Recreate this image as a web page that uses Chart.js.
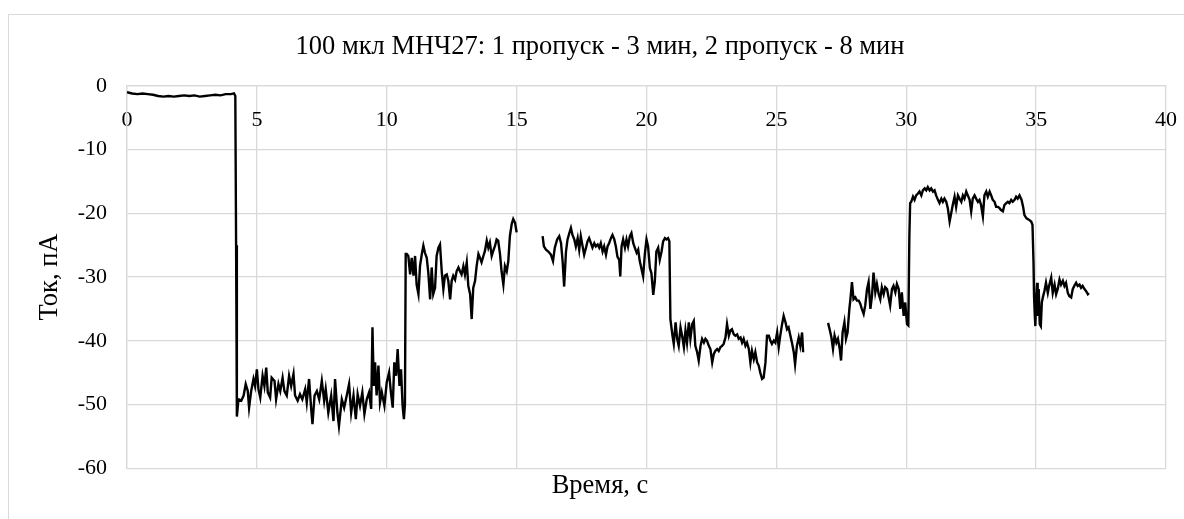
<!DOCTYPE html>
<html>
<head>
<meta charset="utf-8">
<script src="https://cdn.jsdelivr.net/npm/chart.js@4.4.1/dist/chart.umd.min.js"></script>
<style>
  html, body { margin: 0; padding: 0; background: #fff; }
  #wrap { position: relative; width: 1184px; height: 519px; }
</style>
</head>
<body>
<div id="wrap"><canvas id="trace-chart" width="1184" height="519"></canvas></div>
<script>
// Время (с) и ток (пА); три куска между пропусками
const pass1 = [
  [0, -1.0], [0.2, -1.2], [0.4, -1.3], [0.6, -1.2], [0.8, -1.3], [1.0, -1.4], [1.2, -1.6], [1.4, -1.7],
  [1.6, -1.6], [1.8, -1.7], [2.0, -1.6], [2.2, -1.5], [2.4, -1.6], [2.6, -1.5], [2.8, -1.7], [3.0, -1.6],
  [3.2, -1.5], [3.4, -1.4], [3.6, -1.5], [3.8, -1.3], [4.0, -1.3], [4.12, -1.2], [4.17, -1.6], [4.2, -25.0],
  [4.23, -51.9], [4.29, -49.2], [4.40, -49.4], [4.49, -48.6], [4.57, -46.8], [4.65, -47.9], [4.70, -50.5],
  [4.78, -47.9], [4.87, -46.0], [4.93, -47.1], [5.00, -44.5], [5.06, -47.6], [5.13, -48.9], [5.22, -45.5],
  [5.29, -47.1], [5.36, -44.2], [5.42, -48.1], [5.51, -48.9], [5.57, -45.8], [5.68, -46.3], [5.74, -49.2],
  [5.83, -46.8], [5.90, -47.9], [5.99, -45.8], [6.06, -47.9], [6.15, -48.6], [6.24, -45.5], [6.32, -47.1],
  [6.41, -45.2], [6.47, -48.6], [6.57, -49.4], [6.66, -48.4], [6.75, -49.2], [6.86, -47.6], [6.92, -49.7],
  [7.01, -46.0], [7.09, -50.7], [7.14, -53.1], [7.22, -48.6], [7.31, -47.9], [7.40, -49.2], [7.50, -46.3],
  [7.59, -49.4], [7.65, -47.6], [7.75, -51.3], [7.86, -48.6], [7.95, -52.6], [8.01, -46.0], [8.10, -51.3],
  [8.16, -53.4], [8.27, -49.2], [8.36, -50.5], [8.46, -48.6], [8.55, -46.8], [8.63, -51.3], [8.72, -48.6],
  [8.81, -52.3], [8.88, -48.4], [8.97, -50.2], [9.06, -48.1], [9.14, -51.5], [9.23, -49.2], [9.32, -48.1],
  [9.40, -50.7], [9.45, -37.9], [9.50, -47.1], [9.55, -43.4], [9.61, -48.6], [9.68, -43.9], [9.74, -49.7],
  [9.81, -48.1], [9.91, -50.2], [10.0, -46.5], [10.09, -45.0], [10.16, -48.1], [10.23, -50.5], [10.29, -43.4],
  [10.36, -45.5], [10.42, -41.3], [10.49, -47.1], [10.55, -44.5], [10.61, -50.2], [10.66, -52.3], [10.70, -50.0],
  [10.73, -26.4], [10.77, -26.4], [10.83, -26.7], [10.90, -29.6], [10.96, -27.0], [11.03, -29.8], [11.09, -26.7],
  [11.15, -31.2], [11.22, -32.7], [11.28, -28.3], [11.35, -26.4], [11.41, -25.1], [11.47, -26.2], [11.54, -27.0],
  [11.60, -29.3], [11.67, -33.5], [11.73, -28.5], [11.79, -32.7], [11.86, -31.7], [11.92, -26.7], [11.99, -25.4],
  [12.05, -24.9], [12.12, -29.3], [12.18, -31.9], [12.24, -29.8], [12.31, -29.6], [12.37, -30.6], [12.44, -33.5],
  [12.50, -30.6], [12.56, -29.8], [12.63, -30.4], [12.69, -29.1], [12.76, -28.5], [12.82, -29.1], [12.88, -29.6],
  [12.95, -28.3], [13.01, -29.6], [13.08, -27.7], [13.14, -31.4], [13.21, -32.7], [13.27, -36.6], [13.33, -31.7],
  [13.40, -30.6], [13.46, -28.3], [13.53, -26.4], [13.59, -27.0], [13.65, -27.7], [13.72, -26.7], [13.78, -25.9],
  [13.85, -24.3], [13.91, -25.4], [13.97, -24.6], [14.04, -26.7], [14.10, -25.9], [14.17, -25.1], [14.23, -24.1],
  [14.29, -24.3], [14.36, -26.4], [14.42, -29.1], [14.49, -31.2], [14.55, -28.3], [14.62, -29.1], [14.68, -27.5],
  [14.74, -23.6], [14.81, -21.7], [14.87, -20.9], [14.94, -21.5], [15.00, -23.0]
];

const pass2 = [
  [16.0, -23.6], [16.05, -25.2], [16.13, -25.7], [16.22, -26.0], [16.32, -26.5], [16.40, -27.5], [16.47, -25.4],
  [16.56, -24.1], [16.64, -23.6], [16.71, -24.7], [16.77, -27.5], [16.83, -31.5], [16.90, -26.0], [16.96, -24.1],
  [17.03, -23.1], [17.09, -22.3], [17.15, -23.4], [17.22, -24.1], [17.28, -25.2], [17.35, -23.9], [17.41, -25.7],
  [17.47, -23.6], [17.54, -25.2], [17.60, -26.5], [17.67, -25.4], [17.73, -24.4], [17.79, -23.9], [17.86, -24.7],
  [17.92, -25.4], [17.99, -24.7], [18.05, -25.2], [18.12, -24.9], [18.18, -25.4], [18.24, -24.7], [18.31, -26.0],
  [18.37, -25.2], [18.44, -26.5], [18.50, -25.2], [18.56, -24.7], [18.63, -23.9], [18.69, -23.4], [18.76, -24.1],
  [18.82, -25.2], [18.88, -26.8], [18.95, -27.3], [18.99, -29.9], [19.04, -25.2], [19.10, -24.1], [19.17, -25.4],
  [19.23, -24.1], [19.29, -25.2], [19.36, -23.6], [19.42, -23.1], [19.49, -24.7], [19.55, -25.4], [19.62, -26.2],
  [19.68, -25.7], [19.74, -27.5], [19.81, -28.8], [19.87, -29.9], [19.94, -26.2], [20.00, -24.1], [20.06, -25.2],
  [20.13, -28.6], [20.19, -29.4], [20.26, -32.8], [20.32, -30.7], [20.38, -26.0], [20.45, -25.4], [20.51, -27.3],
  [20.58, -26.0], [20.64, -24.4], [20.71, -23.9], [20.77, -24.1], [20.83, -23.9], [20.88, -24.4], [20.92, -36.6],
  [21.0, -39.2], [21.05, -40.5], [21.12, -37.1], [21.18, -39.7], [21.24, -40.8], [21.31, -37.9], [21.37, -39.2],
  [21.44, -41.0], [21.50, -38.4], [21.56, -40.3], [21.63, -37.1], [21.69, -39.7], [21.76, -37.4], [21.82, -36.9],
  [21.88, -40.8], [21.95, -41.8], [22.01, -43.1], [22.08, -40.8], [22.14, -39.7], [22.21, -40.3], [22.27, -39.7],
  [22.33, -40.0], [22.40, -40.8], [22.46, -41.3], [22.53, -43.4], [22.59, -42.1], [22.65, -41.6], [22.72, -41.3],
  [22.78, -41.6], [22.85, -41.0], [22.91, -40.8], [22.97, -40.5], [23.04, -39.5], [23.10, -37.4], [23.17, -39.2],
  [23.23, -38.4], [23.29, -38.2], [23.36, -39.0], [23.42, -39.2], [23.49, -39.0], [23.55, -39.7], [23.62, -39.5],
  [23.68, -40.3], [23.74, -39.7], [23.81, -40.8], [23.87, -40.3], [23.94, -41.3], [24.00, -43.4], [24.06, -41.6],
  [24.13, -42.9], [24.19, -41.8], [24.26, -43.4], [24.32, -43.9], [24.38, -45.0], [24.45, -46.0], [24.51, -45.8],
  [24.58, -43.4], [24.64, -39.2], [24.71, -39.2], [24.77, -40.0], [24.83, -40.5], [24.90, -40.0], [24.96, -40.3],
  [25.03, -38.7], [25.09, -41.0], [25.15, -39.2], [25.22, -37.4], [25.28, -36.1], [25.35, -37.1], [25.41, -38.2],
  [25.47, -37.9], [25.54, -39.2], [25.60, -40.3], [25.67, -41.8], [25.72, -43.7], [25.79, -40.8], [25.86, -39.5],
  [25.92, -40.8], [25.99, -38.7], [26.03, -41.8]
];

const pass3 = [
  [26.99, -37.2], [27.05, -38.2], [27.12, -39.5], [27.18, -41.3], [27.24, -39.2], [27.31, -40.3], [27.37, -39.7],
  [27.44, -41.3], [27.49, -43.1], [27.55, -38.7], [27.62, -37.1], [27.68, -39.7], [27.74, -38.7], [27.81, -35.0],
  [27.85, -33.5], [27.91, -30.8], [27.97, -33.5], [28.04, -33.2], [28.10, -33.7], [28.17, -33.7], [28.23, -34.2],
  [28.29, -35.0], [28.36, -35.8], [28.42, -34.5], [28.49, -31.9], [28.55, -30.8], [28.62, -35.0], [28.68, -33.0],
  [28.74, -29.3], [28.81, -32.4], [28.87, -31.1], [28.94, -32.7], [29.00, -33.5], [29.06, -31.6], [29.13, -32.7],
  [29.19, -31.6], [29.26, -31.9], [29.32, -33.2], [29.38, -34.5], [29.45, -31.9], [29.51, -31.4], [29.58, -32.4],
  [29.64, -31.1], [29.71, -31.9], [29.77, -35.0], [29.83, -32.4], [29.90, -36.1], [29.96, -34.0], [30.03, -37.4],
  [30.08, -37.6], [30.12, -23.6], [30.15, -18.4], [30.19, -18.2], [30.26, -17.4], [30.32, -17.9], [30.38, -17.2],
  [30.45, -16.9], [30.51, -16.6], [30.58, -17.2], [30.64, -16.4], [30.71, -16.1], [30.77, -16.4], [30.83, -15.9],
  [30.90, -16.4], [30.96, -16.1], [31.03, -16.6], [31.09, -16.4], [31.15, -17.2], [31.22, -17.9], [31.28, -18.4],
  [31.35, -17.7], [31.41, -18.2], [31.47, -17.7], [31.54, -18.2], [31.60, -19.2], [31.67, -21.3], [31.73, -20.0],
  [31.79, -18.7], [31.86, -17.4], [31.92, -19.0], [31.99, -17.2], [32.05, -17.7], [32.12, -18.2], [32.18, -17.2],
  [32.24, -17.7], [32.31, -16.6], [32.37, -17.2], [32.44, -17.9], [32.50, -19.7], [32.56, -17.7], [32.63, -17.2],
  [32.69, -17.7], [32.76, -18.2], [32.82, -17.9], [32.88, -18.7], [32.95, -20.5], [33.01, -17.2], [33.08, -16.6],
  [33.14, -17.4], [33.21, -16.6], [33.27, -17.2], [33.33, -17.9], [33.40, -18.2], [33.46, -19.0], [33.53, -19.0],
  [33.59, -19.2], [33.65, -19.5], [33.72, -19.7], [33.78, -18.7], [33.85, -18.4], [33.91, -18.2], [33.97, -18.4],
  [34.04, -17.9], [34.10, -18.2], [34.17, -17.9], [34.23, -17.4], [34.29, -17.7], [34.36, -17.2], [34.44, -17.9],
  [34.50, -19.0], [34.55, -20.3], [34.63, -20.8], [34.72, -21.0], [34.81, -21.3], [34.86, -21.8], [34.90, -27.8],
  [34.92, -33.0], [34.95, -36.1], [34.97, -37.7], [35.00, -33.5], [35.04, -30.9], [35.06, -36.1], [35.10, -31.9],
  [35.14, -37.4], [35.18, -37.7], [35.22, -34.0], [35.27, -33.0], [35.32, -32.2], [35.38, -30.9], [35.45, -32.5],
  [35.51, -31.2], [35.58, -30.1], [35.64, -32.5], [35.71, -31.2], [35.77, -32.7], [35.83, -31.9], [35.90, -30.4],
  [35.96, -31.2], [36.03, -30.6], [36.09, -31.4], [36.15, -30.9], [36.22, -32.5], [36.28, -33.0], [36.35, -33.2],
  [36.41, -31.9], [36.47, -31.4], [36.54, -30.9], [36.60, -31.4], [36.67, -31.2], [36.73, -31.7], [36.79, -31.4],
  [36.86, -31.9], [36.92, -32.2], [36.99, -32.7], [37.03, -32.5]
];

// Пропуски между кусками
const gapTimes = [15.5, 26.5];

const xRange = [0, 40, 5];
const yRange = [-60, 0, 10];

const serif = "'Liberation Serif', 'Times New Roman', serif";

function buildPoints() {
  const parts = [pass1, pass2, pass3];
  const out = [];
  parts.forEach((part, i) => {
    part.forEach((p) => out.push({ x: p[0], y: p[1] }));
    if (i < gapTimes.length) out.push({ x: gapTimes[i], y: null });
  });
  return out;
}

// Рамка вокруг всей диаграммы
const framePlugin = {
  id: "frame",
  beforeDraw(chart) {
    const c = chart.ctx;
    c.save();
    c.strokeStyle = "#d9d9d9";
    c.lineWidth = 1;
    c.strokeRect(8.5, 14.5, 1300, 600);
    c.restore();
  },
};

const ctx = document.getElementById("trace-chart").getContext("2d");
new Chart(ctx, {
  type: "line",
  data: {
    datasets: [
      {
        data: buildPoints(),
        borderColor: "#000",
        borderWidth: 2.4,
        pointRadius: 0,
        tension: 0,
        spanGaps: false,
      },
    ],
  },
  options: {
    responsive: false,
    animation: false,
    layout: { padding: { left: 34, right: 18, top: 0, bottom: 0 } },
    plugins: {
      legend: { display: false },
      tooltip: { enabled: false },
      title: {
        display: true,
        text: "100 мкл МНЧ27: 1 пропуск - 3 мин, 2 пропуск - 8 мин",
        color: "#000",
        font: { family: serif, size: 26.5, weight: "normal" },
        padding: { top: 31, bottom: 23 },
      },
      subtitle: {
        display: true,
        position: "bottom",
        text: "Время, с",
        color: "#000",
        font: { family: serif, size: 26.5, weight: "normal" },
        padding: { top: 2, bottom: 17 },
      },
    },
    scales: {
      x: {
        type: "linear",
        position: { y: 0 },
        min: xRange[0],
        max: xRange[1],
        // подписи по оси X не должны сужать область графика
        afterFit(scale) {
          scale.paddingLeft = 0;
          scale.paddingRight = 0;
        },
        ticks: {
          stepSize: xRange[2],
          color: "#000",
          padding: 21,
          font: { family: serif, size: 22 },
        },
        grid: { color: "#d9d9d9", lineWidth: 1.3, drawTicks: false },
        border: { color: "#d9d9d9", width: 1.3 },
      },
      y: {
        min: yRange[0],
        max: yRange[1],
        afterFit(scale) {
          scale.width = 93;
        },
        ticks: {
          stepSize: yRange[2],
          color: "#000",
          padding: 20,
          font: { family: serif, size: 22 },
        },
        grid: { color: "#d9d9d9", lineWidth: 1.3, drawTicks: false },
        border: { color: "#d9d9d9", width: 1.3 },
        title: {
          display: true,
          text: "Ток, пА",
          color: "#000",
          font: { family: serif, size: 26.5 },
          padding: { top: 0, bottom: 0 },
        },
      },
    },
  },
  plugins: [framePlugin],
});
</script>
</body>
</html>
